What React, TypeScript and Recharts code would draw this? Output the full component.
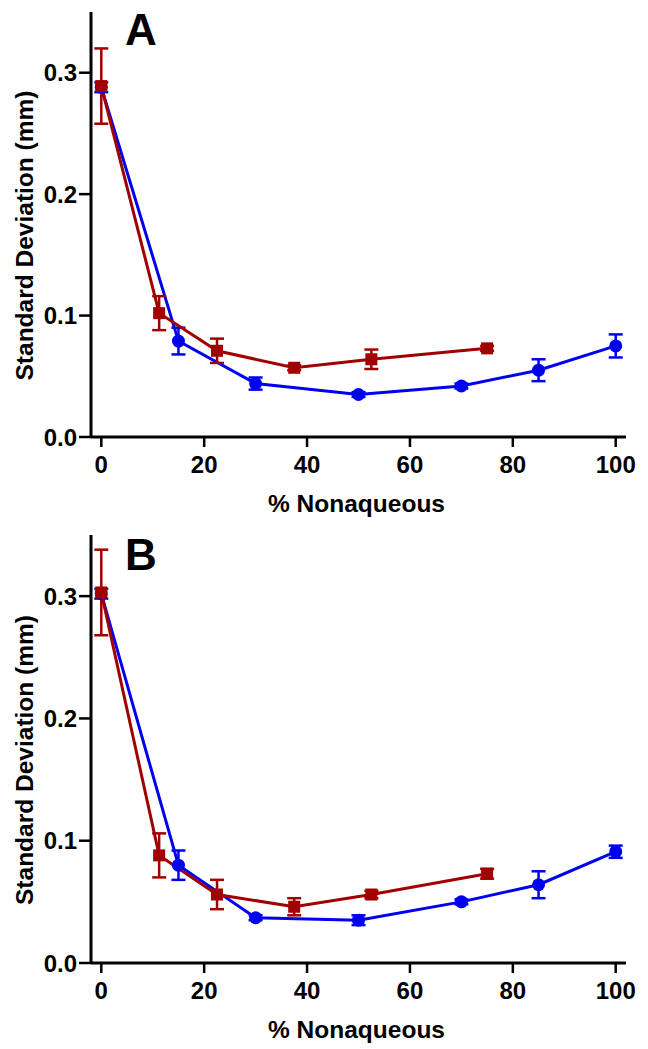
import { LineChart, Line, XAxis, YAxis, ErrorBar, Label } from "recharts";

// x positions (% nonaqueous)
const blueX = [0, 15, 30, 50, 70, 85, 100];
const redX = [0, 11.25, 22.5, 37.5, 52.5, 75];

// panel A
const blueA = [0.288, 0.079, 0.044, 0.035, 0.042, 0.055, 0.075];
const blueErrA = [0.004, 0.011, 0.005, 0.002, 0.002, 0.009, 0.0095];
const redA = [0.289, 0.102, 0.071, 0.057, 0.064, 0.073];
const redErrA = [0.031, 0.014, 0.01, 0.002, 0.008, 0.002];

// panel B
const blueB = [0.302, 0.08, 0.037, 0.035, 0.05, 0.064, 0.091];
const blueErrB = [0.004, 0.012, 0.002, 0.004, 0.002, 0.011, 0.005];
const redB = [0.303, 0.088, 0.056, 0.046, 0.056, 0.073];
const redErrB = [0.035, 0.018, 0.012, 0.007, 0.003, 0.004];

const xTicks = [0, 20, 40, 60, 80, 100];
const yTicks = [0, 0.1, 0.2, 0.3];

const BLUE = "#0000f0";
const RED = "#a00000";
const FONT = '"Liberation Sans", Arial, sans-serif';

const rows = (xs: number[], ys: number[], errs: number[]) =>
  xs.map((x, i) => ({ x, y: ys[i], err: errs[i] }));

const Square = (props: any) => {
  const { cx, cy, index } = props;
  if (cx == null || cy == null) return <g key={`sq-${index}`} />;
  return <rect key={`sq-${index}`} x={cx - 6} y={cy - 6} width={12} height={12} fill={RED} />;
};

const XTitle = (props: any) => {
  const vb = props.viewBox;
  return (
    <text x={vb.x + vb.width / 2 - 2} y={vb.y + 75} textAnchor="middle"
      fontFamily={FONT} fontWeight="bold" fontSize={24.5} fill="#000">
      % Nonaqueous
    </text>
  );
};

const YTitle = (props: any) => {
  const vb = props.viewBox;
  const cx = 33;
  const cy = vb.y + vb.height / 2 + 11;
  return (
    <text x={cx} y={cy} transform={`rotate(-90, ${cx}, ${cy})`} textAnchor="middle"
      fontFamily={FONT} fontWeight="bold" fontSize={24.5} fill="#000">
      Standard Deviation (mm)
    </text>
  );
};

const tickStyle = { fill: "#000", fontSize: 24, fontWeight: "bold", fontFamily: FONT };

function Panel(p: {
  letter: string; blue: number[]; blueErr: number[]; red: number[]; redErr: number[];
  height: number; top: number; bottom: number; letterY: number;
}) {
  const blueRows = rows(blueX, p.blue, p.blueErr);
  const redRows = rows(redX, p.red, p.redErr);
  return (
    <div style={{ position: "relative", width: 648, height: p.height }}>
      <LineChart width={648} height={p.height} margin={{ top: p.top, right: 22, bottom: p.bottom, left: 0 }}>
        <XAxis type="number" dataKey="x" domain={[-2, 102]} ticks={xTicks} interval={0}
          allowDataOverflow height={80} tickSize={10} tickMargin={9}
          axisLine={{ stroke: "#000", strokeWidth: 3 }} tickLine={{ stroke: "#000", strokeWidth: 2.5 }}
          tick={tickStyle}>
          <Label content={XTitle} />
        </XAxis>
        <YAxis type="number" domain={[0, 0.35]} ticks={yTicks} interval={0} allowDataOverflow
          width={91} tickSize={12} tickMargin={2} tickFormatter={(v: number) => v.toFixed(1)}
          axisLine={{ stroke: "#000", strokeWidth: 3 }} tickLine={{ stroke: "#000", strokeWidth: 2.5 }}
          tick={tickStyle}>
          <Label content={YTitle} />
        </YAxis>
        <Line data={blueRows} dataKey="y" type="linear" stroke={BLUE} strokeWidth={3}
          dot={{ r: 6.5, fill: BLUE, stroke: BLUE, strokeWidth: 0 }} activeDot={false} isAnimationActive={false}>
          <ErrorBar dataKey="err" direction="y" width={7} stroke={BLUE} strokeWidth={2.5} isAnimationActive={false} />
        </Line>
        <Line data={redRows} dataKey="y" type="linear" stroke={RED} strokeWidth={3}
          dot={Square} activeDot={false} isAnimationActive={false}>
          <ErrorBar dataKey="err" direction="y" width={7} stroke={RED} strokeWidth={2.5} isAnimationActive={false} />
        </Line>
      </LineChart>
      <svg width={200} height={60} style={{ position: "absolute", left: 0, top: 0, pointerEvents: "none" }}>
        <text x={125} y={p.letterY} fontFamily={FONT} fontWeight="bold" fontSize={44} fill="#000">
          {p.letter}
        </text>
      </svg>
    </div>
  );
}

export default function App() {
  return (
    <div style={{ position: "absolute", left: 0, top: 0, width: 648, height: 1049, background: "#fff" }}>
      <Panel letter="A" blue={blueA} blueErr={blueErrA} red={redA} redErr={redErrA}
        height={524} top={12} bottom={7} letterY={45} />
      <Panel letter="B" blue={blueB} blueErr={blueErrB} red={redB} redErr={redErrB}
        height={525} top={11} bottom={6} letterY={46} />
    </div>
  );
}
